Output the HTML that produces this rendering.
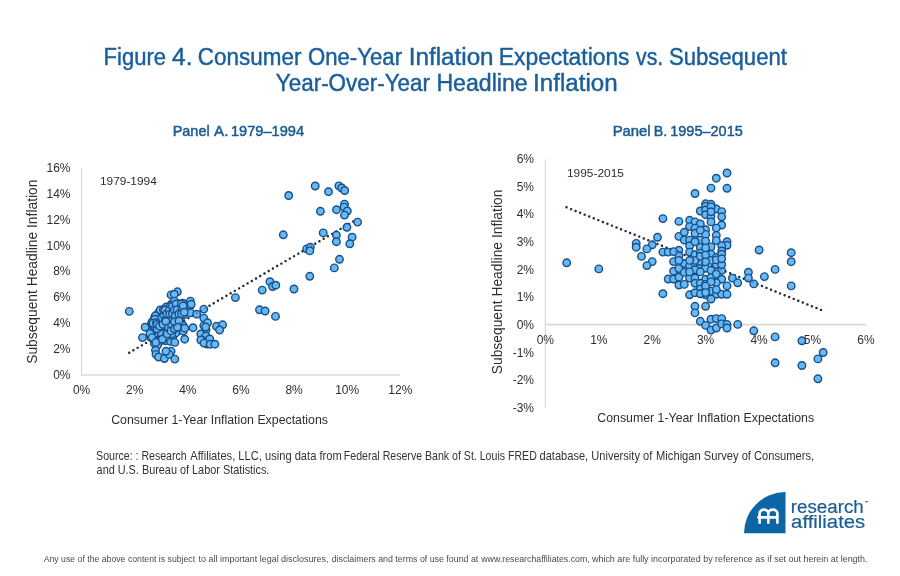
<!DOCTYPE html>
<html><head><meta charset="utf-8"><style>
html,body{margin:0;padding:0;background:#fff;}
body{width:900px;height:576px;overflow:hidden;position:relative;font-family:"Liberation Sans",sans-serif;}
svg{position:absolute;left:0;top:0;will-change:transform;}
</style></head><body>
<svg width="900" height="576" viewBox="0 0 900 576" font-family="Liberation Sans, sans-serif">
<g fill="#195F9C" font-size="23" stroke="#195F9C" stroke-width="0.45">
<text x="103.59" y="64.7" textLength="62.38" lengthAdjust="spacingAndGlyphs">Figure</text><text x="172.14" y="64.7" textLength="20.39" lengthAdjust="spacingAndGlyphs">4.</text><text x="197.86" y="64.7" textLength="103.51" lengthAdjust="spacingAndGlyphs">Consumer</text><text x="307.97" y="64.7" textLength="94.09" lengthAdjust="spacingAndGlyphs">One-Year</text><text x="408.77" y="64.7" textLength="84.81" lengthAdjust="spacingAndGlyphs">Inflation</text><text x="498.83" y="64.7" textLength="130.70" lengthAdjust="spacingAndGlyphs">Expectations</text><text x="636.03" y="64.7" textLength="27.22" lengthAdjust="spacingAndGlyphs">vs.</text><text x="668.90" y="64.7" textLength="117.97" lengthAdjust="spacingAndGlyphs">Subsequent</text><text x="275.82" y="90.6" textLength="154.24" lengthAdjust="spacingAndGlyphs">Year-Over-Year</text><text x="436.40" y="90.6" textLength="91.33" lengthAdjust="spacingAndGlyphs">Headline</text><text x="533.07" y="90.6" textLength="84.60" lengthAdjust="spacingAndGlyphs">Inflation</text>
</g>
<g fill="#1A5B92" font-size="15" stroke="#1A5B92" stroke-width="0.5">
<text x="172.71" y="135.5" textLength="36.95" lengthAdjust="spacingAndGlyphs">Panel</text><text x="213.97" y="135.5" textLength="14.42" lengthAdjust="spacingAndGlyphs">A.</text><text x="230.89" y="135.5" textLength="73.14" lengthAdjust="spacingAndGlyphs">1979–1994</text><text x="612.68" y="135.5" textLength="38.01" lengthAdjust="spacingAndGlyphs">Panel</text><text x="653.83" y="135.5" textLength="13.47" lengthAdjust="spacingAndGlyphs">B.</text><text x="670.19" y="135.5" textLength="72.61" lengthAdjust="spacingAndGlyphs">1995–2015</text>
</g>
<g stroke="#D9D9D9" fill="none">
<line x1="81.6" y1="168" x2="81.6" y2="375.8" stroke-width="1.2"/>
<line x1="81" y1="375" x2="400" y2="375" stroke-width="1.6"/>
<line x1="545.3" y1="159.5" x2="545.3" y2="408" stroke-width="1.2"/>
<line x1="545" y1="324.6" x2="866" y2="324.6" stroke-width="1.6"/>
</g>
<g fill="#2E2E2E" font-size="11.8">
<text x="100" y="184.9" textLength="56.8" lengthAdjust="spacingAndGlyphs">1979-1994</text>
<text x="567" y="176.9" textLength="56.9" lengthAdjust="spacingAndGlyphs">1995-2015</text>
</g>
<g fill="#2E2E2E" font-size="12.4">
<text x="111.2" y="424.3" textLength="216.8" lengthAdjust="spacingAndGlyphs">Consumer 1-Year Inflation Expectations</text>
<text x="597.3" y="422.4" textLength="216.8" lengthAdjust="spacingAndGlyphs">Consumer 1-Year Inflation Expectations</text>
</g>
<g fill="#2E2E2E" font-size="13.8">
<text transform="translate(37.2 363.8) rotate(-90)" textLength="184.2" lengthAdjust="spacingAndGlyphs">Subsequent Headline Inflation</text>
<text transform="translate(502.2 374.3) rotate(-90)" textLength="184.7" lengthAdjust="spacingAndGlyphs">Subsequent Headline Inflation</text>
</g>
<g stroke="#1E2F45" stroke-width="2.4" stroke-linecap="round" stroke-dasharray="0 4.9" fill="none">
<line x1="129.2" y1="352.8" x2="354" y2="221"/>
<line x1="566.5" y1="207.3" x2="821.3" y2="310"/>
</g>
<g fill="#66B9F7" stroke="#1A4F86" stroke-width="1.4">
<circle cx="288.7" cy="195.5" r="3.75"/><circle cx="315.2" cy="186.0" r="3.75"/><circle cx="328.5" cy="191.7" r="3.75"/><circle cx="338.9" cy="185.9" r="3.75"/><circle cx="341.7" cy="188.0" r="3.75"/><circle cx="344.7" cy="190.5" r="3.75"/><circle cx="344.5" cy="204.1" r="3.75"/><circle cx="344.1" cy="207.1" r="3.75"/><circle cx="336.5" cy="209.7" r="3.75"/><circle cx="347.3" cy="211.0" r="3.75"/><circle cx="344.5" cy="215.1" r="3.75"/><circle cx="320.4" cy="211.3" r="3.75"/><circle cx="357.6" cy="222.1" r="3.75"/><circle cx="346.9" cy="227.3" r="3.75"/><circle cx="323.2" cy="232.9" r="3.75"/><circle cx="336.4" cy="235.1" r="3.75"/><circle cx="336.4" cy="241.7" r="3.75"/><circle cx="352.1" cy="237.2" r="3.75"/><circle cx="349.8" cy="243.8" r="3.75"/><circle cx="283.3" cy="234.8" r="3.75"/><circle cx="306.7" cy="248.9" r="3.75"/><circle cx="310.3" cy="247.3" r="3.75"/><circle cx="309.8" cy="250.9" r="3.75"/><circle cx="339.5" cy="259.3" r="3.75"/><circle cx="334.3" cy="267.9" r="3.75"/><circle cx="309.8" cy="276.3" r="3.75"/><circle cx="294.0" cy="289.0" r="3.75"/><circle cx="235.4" cy="297.6" r="3.75"/><circle cx="262.2" cy="290.1" r="3.75"/><circle cx="269.9" cy="281.7" r="3.75"/><circle cx="272.6" cy="286.5" r="3.75"/><circle cx="275.8" cy="285.2" r="3.75"/><circle cx="259.5" cy="309.8" r="3.75"/><circle cx="265.1" cy="311.0" r="3.75"/><circle cx="275.5" cy="316.4" r="3.75"/><circle cx="203.8" cy="309.1" r="3.75"/><circle cx="216.5" cy="326.3" r="3.75"/><circle cx="222.6" cy="324.8" r="3.75"/><circle cx="219.6" cy="330.0" r="3.75"/><circle cx="129.3" cy="311.4" r="3.75"/><circle cx="151.5" cy="323.9" r="3.75"/><circle cx="151.0" cy="327.9" r="3.75"/><circle cx="150.4" cy="331.0" r="3.75"/><circle cx="150.4" cy="337.1" r="3.75"/><circle cx="154.7" cy="317.1" r="3.75"/><circle cx="154.6" cy="321.3" r="3.75"/><circle cx="153.7" cy="324.9" r="3.75"/><circle cx="153.8" cy="329.3" r="3.75"/><circle cx="155.1" cy="330.8" r="3.75"/><circle cx="152.9" cy="335.2" r="3.75"/><circle cx="154.4" cy="343.4" r="3.75"/><circle cx="158.3" cy="313.2" r="3.75"/><circle cx="158.5" cy="317.3" r="3.75"/><circle cx="159.1" cy="321.5" r="3.75"/><circle cx="158.5" cy="323.0" r="3.75"/><circle cx="159.1" cy="329.4" r="3.75"/><circle cx="159.2" cy="332.2" r="3.75"/><circle cx="158.6" cy="335.1" r="3.75"/><circle cx="159.0" cy="340.2" r="3.75"/><circle cx="157.4" cy="342.7" r="3.75"/><circle cx="161.7" cy="311.0" r="3.75"/><circle cx="161.4" cy="316.8" r="3.75"/><circle cx="163.1" cy="318.6" r="3.75"/><circle cx="162.3" cy="322.6" r="3.75"/><circle cx="162.7" cy="327.5" r="3.75"/><circle cx="163.1" cy="333.4" r="3.75"/><circle cx="162.0" cy="337.5" r="3.75"/><circle cx="166.3" cy="307.0" r="3.75"/><circle cx="164.6" cy="313.1" r="3.75"/><circle cx="165.4" cy="317.4" r="3.75"/><circle cx="166.4" cy="328.3" r="3.75"/><circle cx="166.2" cy="332.4" r="3.75"/><circle cx="165.8" cy="340.7" r="3.75"/><circle cx="171.4" cy="304.1" r="3.75"/><circle cx="170.1" cy="306.5" r="3.75"/><circle cx="169.7" cy="312.2" r="3.75"/><circle cx="168.6" cy="316.3" r="3.75"/><circle cx="170.4" cy="323.9" r="3.75"/><circle cx="170.5" cy="327.6" r="3.75"/><circle cx="170.6" cy="332.7" r="3.75"/><circle cx="168.6" cy="334.7" r="3.75"/><circle cx="170.5" cy="341.4" r="3.75"/><circle cx="174.3" cy="303.5" r="3.75"/><circle cx="173.6" cy="307.4" r="3.75"/><circle cx="173.6" cy="312.3" r="3.75"/><circle cx="173.4" cy="315.6" r="3.75"/><circle cx="174.8" cy="318.6" r="3.75"/><circle cx="174.2" cy="324.7" r="3.75"/><circle cx="173.4" cy="327.2" r="3.75"/><circle cx="174.9" cy="331.2" r="3.75"/><circle cx="173.1" cy="335.8" r="3.75"/><circle cx="179.0" cy="303.8" r="3.75"/><circle cx="179.1" cy="307.0" r="3.75"/><circle cx="177.5" cy="312.5" r="3.75"/><circle cx="179.2" cy="315.9" r="3.75"/><circle cx="177.2" cy="318.9" r="3.75"/><circle cx="178.1" cy="323.1" r="3.75"/><circle cx="178.9" cy="329.0" r="3.75"/><circle cx="177.1" cy="331.3" r="3.75"/><circle cx="182.9" cy="303.3" r="3.75"/><circle cx="181.5" cy="307.8" r="3.75"/><circle cx="181.8" cy="311.7" r="3.75"/><circle cx="183.3" cy="315.0" r="3.75"/><circle cx="183.1" cy="325.5" r="3.75"/><circle cx="181.8" cy="329.4" r="3.75"/><circle cx="183.3" cy="331.2" r="3.75"/><circle cx="177.4" cy="291.8" r="3.75"/><circle cx="171.1" cy="294.9" r="3.75"/><circle cx="174.3" cy="294.2" r="3.75"/><circle cx="174.6" cy="301.1" r="3.75"/><circle cx="190.4" cy="301.1" r="3.75"/><circle cx="190.2" cy="305.8" r="3.75"/><circle cx="171.7" cy="309.8" r="3.75"/><circle cx="190.4" cy="312.9" r="3.75"/><circle cx="196.7" cy="314.2" r="3.75"/><circle cx="155.5" cy="315.7" r="3.75"/><circle cx="163.3" cy="314.2" r="3.75"/><circle cx="171.7" cy="318.3" r="3.75"/><circle cx="203.8" cy="318.1" r="3.75"/><circle cx="145.1" cy="327.2" r="3.75"/><circle cx="166.5" cy="312.1" r="3.75"/><circle cx="179.0" cy="319.4" r="3.75"/><circle cx="184.7" cy="328.2" r="3.75"/><circle cx="193.0" cy="327.7" r="3.75"/><circle cx="203.8" cy="325.6" r="3.75"/><circle cx="206.0" cy="329.8" r="3.75"/><circle cx="200.8" cy="334.0" r="3.75"/><circle cx="206.0" cy="336.0" r="3.75"/><circle cx="142.5" cy="337.6" r="3.75"/><circle cx="184.7" cy="339.2" r="3.75"/><circle cx="161.3" cy="340.7" r="3.75"/><circle cx="150.8" cy="335.0" r="3.75"/><circle cx="169.6" cy="329.8" r="3.75"/><circle cx="175.8" cy="332.9" r="3.75"/><circle cx="155.0" cy="340.2" r="3.75"/><circle cx="159.2" cy="324.6" r="3.75"/><circle cx="165.4" cy="324.6" r="3.75"/><circle cx="176.9" cy="325.6" r="3.75"/><circle cx="155.0" cy="326.7" r="3.75"/><circle cx="157.6" cy="345.0" r="3.75"/><circle cx="155.5" cy="350.2" r="3.75"/><circle cx="156.0" cy="354.4" r="3.75"/><circle cx="158.6" cy="357.0" r="3.75"/><circle cx="164.4" cy="358.5" r="3.75"/><circle cx="171.1" cy="351.3" r="3.75"/><circle cx="169.1" cy="354.4" r="3.75"/><circle cx="174.8" cy="359.1" r="3.75"/><circle cx="165.9" cy="351.3" r="3.75"/><circle cx="174.8" cy="342.4" r="3.75"/><circle cx="202.9" cy="340.8" r="3.75"/><circle cx="207.1" cy="344.0" r="3.75"/><circle cx="207.6" cy="322.8" r="3.75"/><circle cx="200.8" cy="340.0" r="3.75"/><circle cx="209.7" cy="339.0" r="3.75"/><circle cx="204.0" cy="343.1" r="3.75"/><circle cx="210.2" cy="344.2" r="3.75"/><circle cx="214.9" cy="344.2" r="3.75"/><circle cx="161.3" cy="334.0" r="3.75"/><circle cx="157.1" cy="328.8" r="3.75"/><circle cx="171.7" cy="334.0" r="3.75"/><circle cx="158.1" cy="319.4" r="3.75"/><circle cx="175.8" cy="306.9" r="3.75"/><circle cx="160.2" cy="310.0" r="3.75"/><circle cx="166.0" cy="336.5" r="3.75"/><circle cx="152.0" cy="321.9" r="3.75"/><circle cx="150.0" cy="333.6" r="3.75"/><circle cx="152.1" cy="337.6" r="3.75"/><circle cx="154.9" cy="319.3" r="3.75"/><circle cx="153.0" cy="323.2" r="3.75"/><circle cx="156.4" cy="322.8" r="3.75"/><circle cx="157.2" cy="324.5" r="3.75"/><circle cx="155.8" cy="342.4" r="3.75"/><circle cx="159.6" cy="326.2" r="3.75"/><circle cx="163.5" cy="309.7" r="3.75"/><circle cx="163.0" cy="324.4" r="3.75"/><circle cx="162.3" cy="339.2" r="3.75"/><circle cx="165.1" cy="310.0" r="3.75"/><circle cx="166.8" cy="313.8" r="3.75"/><circle cx="165.9" cy="321.5" r="3.75"/><circle cx="167.2" cy="333.9" r="3.75"/><circle cx="169.3" cy="310.4" r="3.75"/><circle cx="169.7" cy="314.1" r="3.75"/><circle cx="168.5" cy="327.6" r="3.75"/><circle cx="172.4" cy="306.3" r="3.75"/><circle cx="172.3" cy="313.5" r="3.75"/><circle cx="171.6" cy="326.0" r="3.75"/><circle cx="171.0" cy="330.9" r="3.75"/><circle cx="176.1" cy="304.0" r="3.75"/><circle cx="174.3" cy="310.1" r="3.75"/><circle cx="175.3" cy="316.1" r="3.75"/><circle cx="174.5" cy="321.7" r="3.75"/><circle cx="174.3" cy="328.8" r="3.75"/><circle cx="177.1" cy="309.8" r="3.75"/><circle cx="178.8" cy="314.0" r="3.75"/><circle cx="179.0" cy="321.1" r="3.75"/><circle cx="177.3" cy="327.3" r="3.75"/><circle cx="181.3" cy="304.1" r="3.75"/><circle cx="181.9" cy="309.4" r="3.75"/><circle cx="181.6" cy="313.7" r="3.75"/><circle cx="183.1" cy="305.9" r="3.75"/><circle cx="184.2" cy="312.2" r="3.75"/><circle cx="191.2" cy="304.3" r="3.75"/><circle cx="205.7" cy="327.0" r="3.75"/>
<circle cx="566.7" cy="262.8" r="3.75"/><circle cx="598.8" cy="268.9" r="3.75"/><circle cx="662.9" cy="218.6" r="3.75"/><circle cx="657.5" cy="237.3" r="3.75"/><circle cx="636.2" cy="243.4" r="3.75"/><circle cx="636.2" cy="247.2" r="3.75"/><circle cx="652.2" cy="244.8" r="3.75"/><circle cx="646.9" cy="248.9" r="3.75"/><circle cx="641.5" cy="256.4" r="3.75"/><circle cx="662.9" cy="252.1" r="3.75"/><circle cx="668.2" cy="252.1" r="3.75"/><circle cx="652.2" cy="261.6" r="3.75"/><circle cx="646.9" cy="265.6" r="3.75"/><circle cx="662.9" cy="293.7" r="3.75"/><circle cx="673.6" cy="261.6" r="3.75"/><circle cx="673.6" cy="271.2" r="3.75"/><circle cx="668.2" cy="279.0" r="3.75"/><circle cx="673.6" cy="279.0" r="3.75"/><circle cx="678.9" cy="285.0" r="3.75"/><circle cx="678.9" cy="236.4" r="3.75"/><circle cx="678.9" cy="250.3" r="3.75"/><circle cx="678.9" cy="255.5" r="3.75"/><circle cx="678.9" cy="268.6" r="3.75"/><circle cx="678.9" cy="277.2" r="3.75"/><circle cx="727.0" cy="173.0" r="3.75"/><circle cx="716.3" cy="178.2" r="3.75"/><circle cx="711.0" cy="188.1" r="3.75"/><circle cx="727.0" cy="188.3" r="3.75"/><circle cx="695.0" cy="193.5" r="3.75"/><circle cx="705.6" cy="203.8" r="3.75"/><circle cx="711.0" cy="204.3" r="3.75"/><circle cx="705.6" cy="206.4" r="3.75"/><circle cx="700.3" cy="211.0" r="3.75"/><circle cx="705.6" cy="210.0" r="3.75"/><circle cx="716.3" cy="209.0" r="3.75"/><circle cx="721.7" cy="211.6" r="3.75"/><circle cx="705.6" cy="214.7" r="3.75"/><circle cx="711.0" cy="216.3" r="3.75"/><circle cx="721.7" cy="216.8" r="3.75"/><circle cx="711.0" cy="221.9" r="3.75"/><circle cx="721.7" cy="225.0" r="3.75"/><circle cx="716.3" cy="228.1" r="3.75"/><circle cx="678.9" cy="221.4" r="3.75"/><circle cx="689.6" cy="220.3" r="3.75"/><circle cx="695.0" cy="221.9" r="3.75"/><circle cx="700.3" cy="224.0" r="3.75"/><circle cx="689.6" cy="226.6" r="3.75"/><circle cx="695.0" cy="228.1" r="3.75"/><circle cx="705.6" cy="229.7" r="3.75"/><circle cx="684.3" cy="232.3" r="3.75"/><circle cx="695.0" cy="233.3" r="3.75"/><circle cx="705.6" cy="234.4" r="3.75"/><circle cx="716.3" cy="235.4" r="3.75"/><circle cx="684.3" cy="240.1" r="3.75"/><circle cx="689.6" cy="240.1" r="3.75"/><circle cx="700.3" cy="240.1" r="3.75"/><circle cx="705.6" cy="241.1" r="3.75"/><circle cx="716.3" cy="240.6" r="3.75"/><circle cx="727.0" cy="241.7" r="3.75"/><circle cx="727.0" cy="245.3" r="3.75"/><circle cx="689.6" cy="245.8" r="3.75"/><circle cx="711.0" cy="246.9" r="3.75"/><circle cx="721.7" cy="245.8" r="3.75"/><circle cx="700.3" cy="247.4" r="3.75"/><circle cx="705.6" cy="247.9" r="3.75"/><circle cx="673.6" cy="251.6" r="3.75"/><circle cx="689.6" cy="252.1" r="3.75"/><circle cx="695.0" cy="254.7" r="3.75"/><circle cx="700.3" cy="253.1" r="3.75"/><circle cx="711.0" cy="254.2" r="3.75"/><circle cx="721.7" cy="251.0" r="3.75"/><circle cx="705.6" cy="256.8" r="3.75"/><circle cx="716.3" cy="257.3" r="3.75"/><circle cx="721.7" cy="254.2" r="3.75"/><circle cx="684.3" cy="263.5" r="3.75"/><circle cx="689.6" cy="266.1" r="3.75"/><circle cx="695.0" cy="263.5" r="3.75"/><circle cx="700.3" cy="264.6" r="3.75"/><circle cx="705.6" cy="268.2" r="3.75"/><circle cx="711.0" cy="270.3" r="3.75"/><circle cx="716.3" cy="264.6" r="3.75"/><circle cx="721.7" cy="270.3" r="3.75"/><circle cx="695.0" cy="269.8" r="3.75"/><circle cx="689.6" cy="278.1" r="3.75"/><circle cx="695.0" cy="278.1" r="3.75"/><circle cx="705.6" cy="279.2" r="3.75"/><circle cx="711.0" cy="277.6" r="3.75"/><circle cx="721.7" cy="279.2" r="3.75"/><circle cx="732.4" cy="278.1" r="3.75"/><circle cx="737.7" cy="282.8" r="3.75"/><circle cx="684.3" cy="284.4" r="3.75"/><circle cx="695.0" cy="283.3" r="3.75"/><circle cx="700.3" cy="283.3" r="3.75"/><circle cx="716.3" cy="282.8" r="3.75"/><circle cx="727.0" cy="285.9" r="3.75"/><circle cx="700.3" cy="289.1" r="3.75"/><circle cx="711.0" cy="291.1" r="3.75"/><circle cx="689.6" cy="294.8" r="3.75"/><circle cx="695.0" cy="292.7" r="3.75"/><circle cx="705.6" cy="294.8" r="3.75"/><circle cx="716.3" cy="294.3" r="3.75"/><circle cx="721.7" cy="294.3" r="3.75"/><circle cx="727.0" cy="294.3" r="3.75"/><circle cx="711.0" cy="299.0" r="3.75"/><circle cx="695.0" cy="306.3" r="3.75"/><circle cx="705.6" cy="306.3" r="3.75"/><circle cx="695.0" cy="312.9" r="3.75"/><circle cx="700.3" cy="321.3" r="3.75"/><circle cx="705.6" cy="325.4" r="3.75"/><circle cx="711.0" cy="319.2" r="3.75"/><circle cx="716.3" cy="318.6" r="3.75"/><circle cx="721.7" cy="318.6" r="3.75"/><circle cx="711.0" cy="330.1" r="3.75"/><circle cx="716.3" cy="328.0" r="3.75"/><circle cx="721.7" cy="323.9" r="3.75"/><circle cx="727.0" cy="324.4" r="3.75"/><circle cx="727.0" cy="328.0" r="3.75"/><circle cx="737.7" cy="324.4" r="3.75"/><circle cx="759.1" cy="250.0" r="3.75"/><circle cx="791.2" cy="252.7" r="3.75"/><circle cx="791.2" cy="261.7" r="3.75"/><circle cx="775.1" cy="269.4" r="3.75"/><circle cx="748.4" cy="272.2" r="3.75"/><circle cx="764.4" cy="276.6" r="3.75"/><circle cx="748.4" cy="278.1" r="3.75"/><circle cx="753.8" cy="283.9" r="3.75"/><circle cx="791.2" cy="285.9" r="3.75"/><circle cx="753.8" cy="330.8" r="3.75"/><circle cx="775.1" cy="336.9" r="3.75"/><circle cx="801.9" cy="340.8" r="3.75"/><circle cx="823.2" cy="352.5" r="3.75"/><circle cx="817.9" cy="358.9" r="3.75"/><circle cx="775.1" cy="362.8" r="3.75"/><circle cx="801.9" cy="365.5" r="3.75"/><circle cx="817.9" cy="378.8" r="3.75"/><circle cx="684.3" cy="272.4" r="3.75"/><circle cx="700.3" cy="271.9" r="3.75"/><circle cx="700.3" cy="261.5" r="3.75"/><circle cx="711.0" cy="260.4" r="3.75"/><circle cx="705.6" cy="284.4" r="3.75"/><circle cx="716.3" cy="274.0" r="3.75"/><circle cx="689.6" cy="271.9" r="3.75"/><circle cx="716.3" cy="259.9" r="3.75"/><circle cx="721.7" cy="264.6" r="3.75"/><circle cx="705.6" cy="290.6" r="3.75"/><circle cx="716.3" cy="289.6" r="3.75"/><circle cx="700.3" cy="293.8" r="3.75"/><circle cx="695.0" cy="260.4" r="3.75"/><circle cx="689.6" cy="260.4" r="3.75"/><circle cx="678.9" cy="260.4" r="3.75"/><circle cx="700.3" cy="230.2" r="3.75"/><circle cx="695.0" cy="241.7" r="3.75"/><circle cx="700.3" cy="256.2" r="3.75"/><circle cx="721.7" cy="258.8" r="3.75"/><circle cx="711.0" cy="206.9" r="3.75"/><circle cx="705.6" cy="255.1" r="3.75"/><circle cx="711.0" cy="281.9" r="3.75"/><circle cx="705.6" cy="261.9" r="3.75"/><circle cx="711.0" cy="211.8" r="3.75"/><circle cx="705.6" cy="286.1" r="3.75"/><circle cx="705.6" cy="292.6" r="3.75"/>
</g>
<g opacity="0.3" stroke="#1E2F45" stroke-width="2.4" stroke-linecap="round" stroke-dasharray="0 4.9" fill="none">
<line x1="129.2" y1="352.8" x2="354" y2="221"/>
<line x1="566.5" y1="207.3" x2="821.3" y2="310"/>
</g>
<g fill="#2E2E2E" font-size="12"><text x="70.5" y="379.2" text-anchor="end">0%</text><text x="70.5" y="353.3" text-anchor="end">2%</text><text x="70.5" y="327.3" text-anchor="end">4%</text><text x="70.5" y="301.4" text-anchor="end">6%</text><text x="70.5" y="275.4" text-anchor="end">8%</text><text x="70.5" y="249.5" text-anchor="end">10%</text><text x="70.5" y="223.6" text-anchor="end">12%</text><text x="70.5" y="197.6" text-anchor="end">14%</text><text x="70.5" y="171.7" text-anchor="end">16%</text><text x="81.6" y="393.9" text-anchor="middle">0%</text><text x="134.7" y="393.9" text-anchor="middle">2%</text><text x="187.8" y="393.9" text-anchor="middle">4%</text><text x="241.0" y="393.9" text-anchor="middle">6%</text><text x="294.1" y="393.9" text-anchor="middle">8%</text><text x="347.2" y="393.9" text-anchor="middle">10%</text><text x="400.3" y="393.9" text-anchor="middle">12%</text><text x="534" y="411.8" text-anchor="end">-3%</text><text x="534" y="384.1" text-anchor="end">-2%</text><text x="534" y="356.5" text-anchor="end">-1%</text><text x="534" y="328.8" text-anchor="end">0%</text><text x="534" y="301.1" text-anchor="end">1%</text><text x="534" y="273.5" text-anchor="end">2%</text><text x="534" y="245.8" text-anchor="end">3%</text><text x="534" y="218.2" text-anchor="end">4%</text><text x="534" y="190.5" text-anchor="end">5%</text><text x="534" y="162.8" text-anchor="end">6%</text><text x="545.3" y="344.4" text-anchor="middle">0%</text><text x="598.8" y="344.4" text-anchor="middle">1%</text><text x="652.2" y="344.4" text-anchor="middle">2%</text><text x="705.6" y="344.4" text-anchor="middle">3%</text><text x="759.1" y="344.4" text-anchor="middle">4%</text><text x="812.5" y="344.4" text-anchor="middle">5%</text><text x="866.0" y="344.4" text-anchor="middle">6%</text></g>

<g fill="#333" font-size="12.6">
<text x="96.12" y="460" textLength="90.57" lengthAdjust="spacingAndGlyphs">Source: : Research</text><text x="190.28" y="460" textLength="151.45" lengthAdjust="spacingAndGlyphs">Affiliates, LLC, using data from</text><text x="343.83" y="460" textLength="192.97" lengthAdjust="spacingAndGlyphs">Federal Reserve Bank of St. Louis FRED</text><text x="539.53" y="460" textLength="112.75" lengthAdjust="spacingAndGlyphs">database, University of</text><text x="656.08" y="460" textLength="158.12" lengthAdjust="spacingAndGlyphs">Michigan Survey of Consumers,</text>
<text x="96.6" y="474" textLength="172.8" lengthAdjust="spacingAndGlyphs">and U.S. Bureau of Labor Statistics.</text>
</g>
<g fill="#0C66A6">
<path d="M785.5 492.1 L785.5 533.3 L744 533.3 A41.5 41.2 0 0 1 785.5 492.1 Z"/>
</g>
<g fill="none" stroke="#fff" stroke-width="2.6">
<path d="M759.6 523.8 V513.4 A4.35 3.8 0 0 1 768.3 513.4 V523.8 M768.3 513.4 A4.55 3.8 0 0 1 777.4 513.4 V523.8 M757.4 517.4 H777.4"/>
</g>
<g fill="#1A5C96" font-size="18" stroke="#1A5C96" stroke-width="0.2">
<text x="790.75" y="512.5" textLength="72.96" lengthAdjust="spacingAndGlyphs">research</text><text x="791.14" y="528" textLength="74.09" lengthAdjust="spacingAndGlyphs">affiliates</text>
</g>
<rect x="865" y="501.3" width="3.2" height="1" fill="#1A5C96"/>
<g fill="#4A4A4A" font-size="8.8">
<text x="43.68" y="561.7" textLength="151.48" lengthAdjust="spacingAndGlyphs">Any use of the above content is subject</text><text x="198.56" y="561.7" textLength="129.84" lengthAdjust="spacingAndGlyphs">to all important legal disclosures,</text><text x="331.63" y="561.7" textLength="146.64" lengthAdjust="spacingAndGlyphs">disclaimers and terms of use found at</text><text x="481.31" y="561.7" textLength="108.37" lengthAdjust="spacingAndGlyphs">www.researchaffiliates.com,</text><text x="592.01" y="561.7" textLength="275.50" lengthAdjust="spacingAndGlyphs">which are fully incorporated by reference as if set out herein at length.</text>
</g>
</svg>
</body></html>
